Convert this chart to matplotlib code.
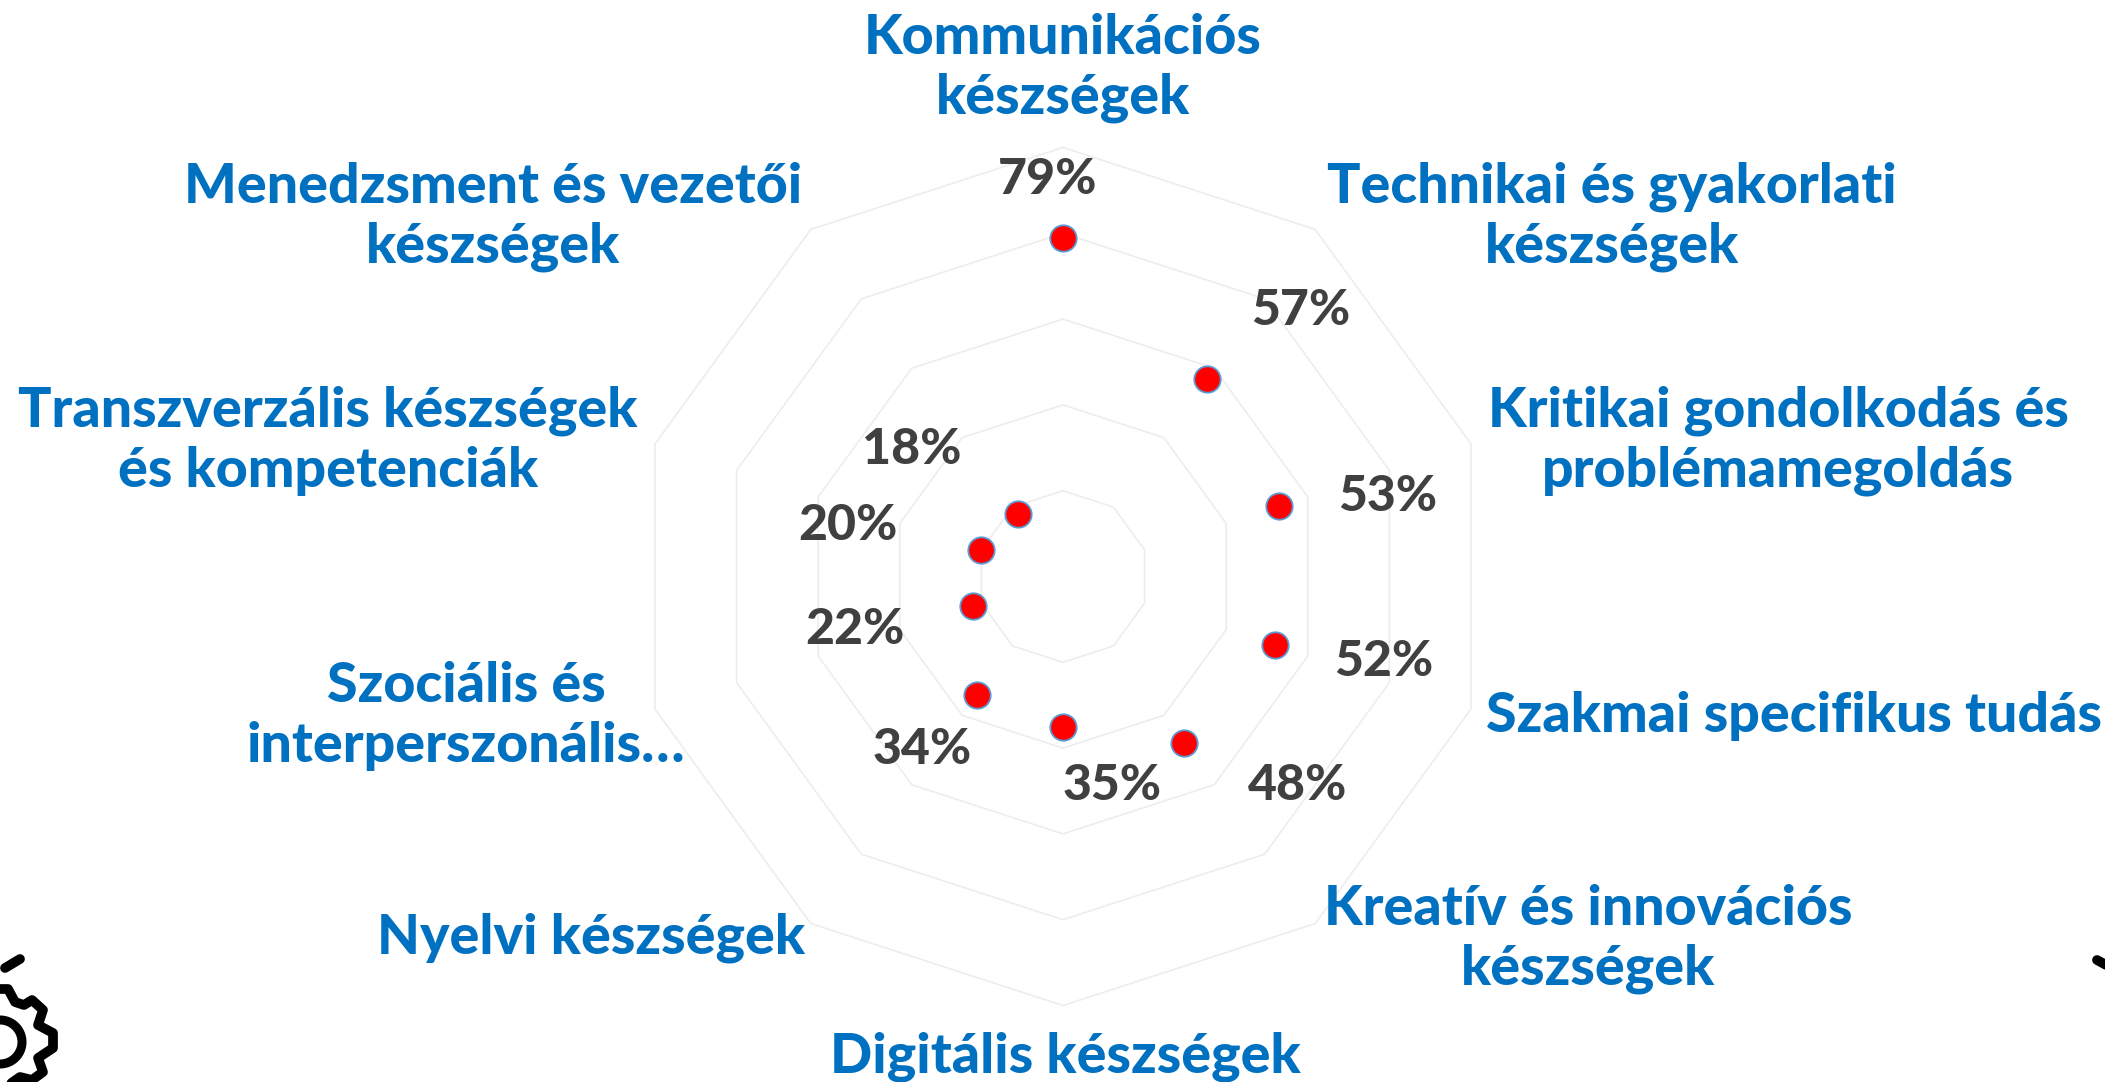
import numpy as np
import matplotlib
matplotlib.use('Agg')
import matplotlib.pyplot as plt
from matplotlib.lines import Line2D

# adatok
categories = ['Kommunikációs\nkészségek', 'Technikai és gyakorlati\nkészségek',
              'Kritikai gondolkodás és\nproblémamegoldás', 'Szakmai specifikus tudás',
              'Kreatív és innovációs\nkészségek', 'Digitális készségek', 'Nyelvi készségek',
              'Szociális és\ninterperszonális…', 'Transzverzális készségek\nés kompetenciák',
              'Menedzsment és vezetői\nkészségek']
values = [79, 57, 53, 52, 48, 35, 34, 22, 20, 18]
rings = [20, 40, 60, 80, 100]

# label centres in reference pixels
cat_pos = [(1063, 68), (1612, 217), (1778, 441), (1794, 716), (1588, 939),
           (1065, 1057), (591, 938), (466, 716), (328, 441), (493, 217)]
val_pos = [(1048, 180), (1301, 310), (1388, 497), (1384, 661), (1298, 786),
           (1112, 786), (922, 749), (855, 629), (848, 525), (912, 449)]

W, H = 2105, 1082
CX, CY, R = 1063, 576.5, 429
BLUE = '#0070C0'
GREY = '#404040'
FONT = 'Lato'

fig = plt.figure(figsize=(W / 100, H / 100), dpi=100, facecolor='white')
ax = fig.add_axes([(CX - R) / W, 1 - (CY + R) / H, 2 * R / W, 2 * R / H], projection='polar')
ax.set_theta_zero_location('N')
ax.set_theta_direction(-1)
ax.set_ylim(0, 100)
ax.axis('off')

angles = np.linspace(0, 2 * np.pi, len(values), endpoint=False)
closed = np.append(angles, angles[0])
for r in rings:
    ax.plot(closed, [r] * len(closed), color='#EDEDED', lw=1.2, zorder=1, clip_on=False)
ax.plot(angles, values, ls='none', marker='o', ms=19, mfc='#FF0000', mec='#5B9BD5',
        mew=1.3, zorder=3, clip_on=False)


def px(x, y):
    return x / W, 1 - y / H


for lab, (x, y) in zip(categories, cat_pos):
    fx, fy = px(x, y)
    fig.text(fx, fy, lab, ha='center', va='center', ma='center', color=BLUE, family=FONT,
             weight='black', fontsize=40, linespacing=1.24)
for v, (x, y) in zip(values, val_pos):
    fx, fy = px(x, y)
    fig.text(fx, fy, f'{v}%', ha='center', va='center', color=GREY, family=FONT,
             weight='black', fontsize=36)

# gear icon pieces cut off by the slide edge
gear = [(-4, 989), (8, 989), (15, 1002), (24, 1005), (32, 1000), (43, 1010), (38, 1025),
        (53, 1033), (53, 1048), (38, 1058), (43, 1072), (32, 1080), (20, 1077), (10, 1084)]
strokes = [(gear, 7), ([(5, 968), (20, 959)], 7), ([(2097, 960), (2108, 966)], 7)]
for pts, lw in strokes:
    xs, ys = zip(*[px(*p) for p in pts])
    fig.add_artist(Line2D(xs, ys, transform=fig.transFigure, color='black', lw=lw,
                          solid_capstyle='round', solid_joinstyle='round'))
t = np.linspace(-np.pi / 2, np.pi / 2, 60)
xs, ys = px(0 + 22 * np.cos(t), 1042 + 22 * np.sin(t))
fig.add_artist(Line2D(xs, ys, transform=fig.transFigure, color='black', lw=6.5))

fig.savefig('out.png', dpi=100)
